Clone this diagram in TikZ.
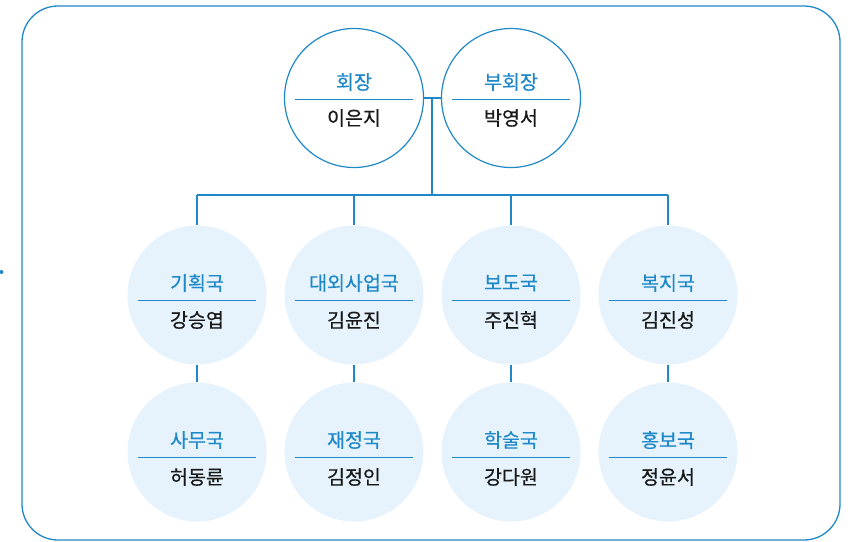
\documentclass[tikz,border=0pt]{standalone}
\usepackage{fontspec}
\setmainfont{Noto Sans CJK KR}[FakeBold=0.5]
\usepackage{tikz}
\usetikzlibrary{positioning}
\usepackage{xcolor}
\definecolor{orgblue}{HTML}{1E88C8}
\definecolor{orgfill}{HTML}{E6F3FC}

\begin{document}
\begin{tikzpicture}[x=1pt,y=-1pt,
  head/.style={circle,draw=orgblue,line width=1.2pt,fill=white,minimum size=139pt,inner sep=0pt},
  dept/.style={circle,fill=orgfill,minimum size=139pt,inner sep=0pt},
  role/.style={text=orgblue,font=\fontsize{19.5}{23}\selectfont},
  who/.style={text=black!90,font=\fontsize{19.5}{23}\selectfont},
  link/.style={draw=orgblue,line width=1.2pt},
  rule/.style={draw=orgblue,line width=0.8pt}]
\useasboundingbox (0,0) rectangle (850,541);
\draw[orgblue,line width=1.3pt,rounded corners=36pt] (22,6) rectangle (840,540);
\fill[orgblue] (1.5,272) circle (2pt);
\node[head] (chair) at (354,98) {};
\node[role] (chairt) at (354,82) {회장};
\node[who] (chairn) at (354,118) {이은지};
\draw[rule] (295,99.5) -- (413,99.5);
\node[head] (vice) at (511,98) {};
\node[role] (vicet) at (511,82) {부회장};
\node[who] (vicen) at (511,118) {박영서};
\draw[rule] (452,99.5) -- (570,99.5);
\coordinate (mid) at (432,98);
\coordinate (bus) at (432,195);
\draw[link] (chair.east) -- (vice.west);
\draw[link] (mid) -- (bus);
\foreach \i/\x/\ta/\na/\tb/\nb in {1/197/기획국/강승엽/사무국/허동륜,
  2/354/대외사업국/김윤진/재정국/김정인,
  3/511/보도국/주진혁/학술국/강다원,
  4/668/복지국/김진성/홍보국/정윤서}{
  \node[dept] (up\i) at (\x,295) {};
  \node[role] (up\i t) at (\x,283) {\ta};
  \node[who] (up\i n) at (\x,320) {\na};
  \draw[rule] (\x-59,300) -- (\x+59,300);
  \node[dept] (lo\i) at (\x,452) {};
  \node[role] (lo\i t) at (\x,440) {\tb};
  \node[who] (lo\i n) at (\x,477) {\nb};
  \draw[rule] (\x-59,457) -- (\x+59,457);
  \draw[link] (up\i.north |- bus) -- (up\i.north);
  \draw[link] (up\i.south) -- (lo\i.north);
}
\draw[link] (up1.north |- bus) -- (up4.north |- bus);
\end{tikzpicture}
\end{document}
